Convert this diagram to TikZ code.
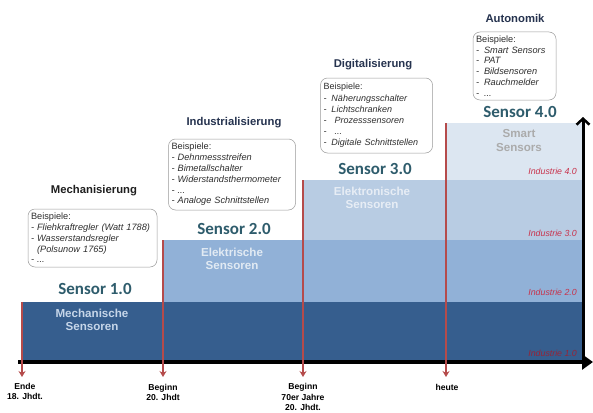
\documentclass[tikz,border=0pt]{standalone}
\usepackage{fontspec}
\setmainfont{Liberation Sans}
\newfontfamily\calibri{Carlito}
\usetikzlibrary{arrows.meta}
\definecolor{bandA}{HTML}{365E8E}
\definecolor{bandB}{HTML}{91B1D7}
\definecolor{bandC}{HTML}{B8CCE3}
\definecolor{bandD}{HTML}{DCE6F1}
\definecolor{sensteal}{HTML}{2E5C6C}
\definecolor{titleblue}{HTML}{26334F}
\definecolor{indred}{HTML}{C8324B}
\definecolor{markred}{HTML}{B54B4B}
\begin{document}
\begin{tikzpicture}[x=1pt,y=-1pt,
  exbox/.style={draw=black!40, line width=0.5pt, rounded corners=7pt, fill=white,
    align=left, font=\fontsize{9.2}{10.8}\selectfont, text=black!82, inner xsep=3pt, inner ysep=1pt},
  phase/.style={font=\bfseries\fontsize{11.3}{13}\selectfont, text=titleblue},
  senstitle/.style={font=\calibri\bfseries\fontsize{17}{19}\selectfont, text=sensteal},
  bandlabel/.style={font=\bfseries\fontsize{11.6}{13.2}\selectfont, align=center},
  indlabel/.style={font=\itshape\fontsize{8.8}{10}\selectfont, text=indred, anchor=east, inner sep=0pt},
  datelabel/.style={font=\bfseries\fontsize{8.6}{10.4}\selectfont, align=center, inner sep=0pt},
  axisline/.style={line width=3.5pt, black},
  marker/.style={markred, line width=1.3pt, -{Stealth[length=6pt,width=7pt]}}
]
\useasboundingbox (0,0) rectangle (593,412);
\fill[white] (0,0) rectangle (593,412);

% bands
\fill[bandA] (22,302) rectangle (583,362);
\fill[bandB] (163,240) rectangle (583,302);
\fill[bandC] (303,180) rectangle (583,240);
\fill[bandD] (446,123) rectangle (583,180);

% band labels
\node[bandlabel, text=bandC!80!white] (lab1) at (92,319.5) {Mechanische\\Sensoren};
\node[bandlabel, text=bandD!85!white] (lab2) at (232,258.5) {Elektrische\\Sensoren};
\node[bandlabel, text=bandD!70!white] (lab3) at (372,198) {Elektronische\\Sensoren};
\node[bandlabel, text=black!33] (lab4) at (519,140.5) {Smart\\Sensors};

% sensor titles
\node[senstitle] (s1) at (95,289) {Sensor 1.0};
\node[senstitle] (s2) at (234,228.5) {Sensor 2.0};
\node[senstitle] (s3) at (375,169) {Sensor 3.0};
\node[senstitle] (s4) at (520,111.5) {Sensor 4.0};

% Industrie labels
\node[indlabel] (i4) at (577,171) {Industrie 4.0};
\node[indlabel] (i3) at (577,233.5) {Industrie 3.0};
\node[indlabel] (i2) at (577,292.5) {Industrie 2.0};
\node[indlabel, text=indred!75!black] (i1) at (577,353) {Industrie 1.0};

% axes
\coordinate (xs) at (18,362);
\coordinate (xe) at (593,362);
\coordinate (ys) at (583,363);
\coordinate (ye) at (583,117);
\draw[axisline, -{Triangle[length=11pt,width=15pt]}] (xs) -- (xe);
\draw[line width=3pt, black, -{Straight Barb[length=6pt,width=13pt,line width=2.5pt]}] (ys) -- (ye);

% markers
\coordinate (t1) at (22,302);   \coordinate (b1) at (22,377);
\coordinate (t2) at (163,240);  \coordinate (b2) at (163,377);
\coordinate (t3) at (303,180);  \coordinate (b3) at (303,377);
\coordinate (t4) at (446,123);  \coordinate (b4) at (446,377);
\draw[marker] (t1) -- (b1);
\draw[marker] (t2) -- (b2);
\draw[marker] (t3) -- (b3);
\draw[marker] (t4) -- (b4);

% dates
\node[datelabel] (d1) at (25,391.5) {Ende\\18. Jhdt.};
\node[datelabel] (d2) at (163,392.5) {Beginn\\20. Jhdt};
\node[datelabel] (d3) at (303,397) {Beginn\\70er Jahre\\20. Jhdt.};
\node[datelabel] (d4) at (447,387) {heute};

% phase titles
\node[phase, text=black!88] (p1) at (94,191) {Mechanisierung};
\node[phase] (p2) at (234,123) {Industrialisierung};
\node[phase] (p3) at (373,65) {Digitalisierung};
\node[phase] (p4) at (515,18) {Autonomik};

% example boxes
\node[exbox, minimum width=129pt, minimum height=58pt, text width=123pt] (e1) at (92.5,238)
  {Beispiele:\\\itshape - Fliehkraftregler (Watt 1788)\\- Wasserstandsregler\\\hphantom{- }(Polsunow 1765)\\- ...};
\node[exbox, minimum width=127pt, minimum height=71pt, text width=121pt] (e2) at (232,174.5)
  {Beispiele:\\\itshape - Dehnmessstreifen\\- Bimetallschalter\\- Widerstandsthermometer\\- ...\\- Analoge Schnittstellen};
\node[exbox, minimum width=112pt, minimum height=75pt, text width=106pt, font=\fontsize{9}{11.2}\selectfont] (e3) at (376.5,115.5)
  {Beispiele:\\\itshape \makebox[8pt][l]{-}Näherungsschalter\\\makebox[8pt][l]{-}Lichtschranken\\\makebox[8pt][l]{-}\hspace{3pt}Prozesssensoren\\\makebox[8pt][l]{-}\hspace{3pt}...\\\makebox[8pt][l]{-}Digitale Schnittstellen};
\node[exbox, minimum width=83pt, minimum height=68pt, text width=77pt] (e4) at (514.5,66)
  {Beispiele:\\\itshape \makebox[8pt][l]{-}Smart Sensors\\\makebox[8pt][l]{-}PAT\\\makebox[8pt][l]{-}Bildsensoren\\\makebox[8pt][l]{-}Rauchmelder\\\makebox[8pt][l]{-}...};
\end{tikzpicture}
\end{document}
